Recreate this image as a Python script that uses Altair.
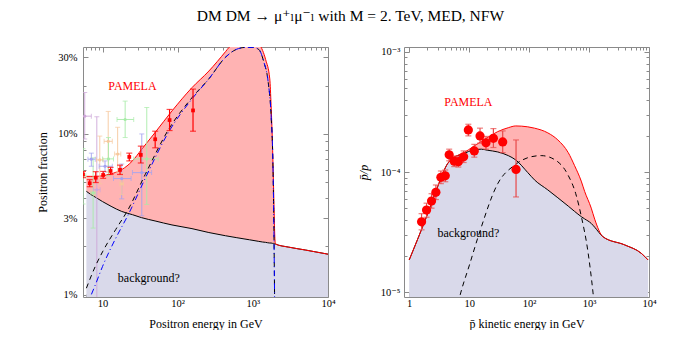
import altair as alt
import pandas as pd

FONT = "Liberation Serif, DejaVu Serif, serif"
FRAME = "#8a8a8a"
PINK = "#FFB3B3"
LAV = "#D9D9EA"
RED = "#FF0000"

# ---------------- Left panel: positron fraction (in %) ----------------
pos_E = [6.1, 7, 8, 10, 13, 18, 25, 33, 50, 84, 155, 260, 434, 482, 600, 900, 1200, 1350,
         1480, 1680, 1750, 1820, 1880, 1930, 1960, 2000, 3000, 5000, 10000]
pos_bg = [4.4, 4.2, 4.05, 3.8, 3.55, 3.3, 3.15, 3.02, 2.88, 2.72, 2.58, 2.44, 2.33, 2.31, 2.27,
          2.2, 2.15, 2.13, 2.12, 2.1, 2.1, 2.09, 2.09, 2.08, 2.08, 2.07, 1.98, 1.9, 1.79]
pos_tot = [5.45, 5.45, 5.45, 5.5, 5.65, 6.0, 6.8, 8.0, 10.2, 13.9, 19.4, 24.6, 32.5, 34.5, 36.5,
           37.5, 36, 33, 29, 22, 15, 9, 5, 3, 2.3, 2.07, 1.98, 1.9, 1.79]

dm_E = [6.1, 8, 10, 15, 22, 37, 76, 155, 260, 434, 600, 800, 1000, 1200, 1400, 1600, 1750,
        1850, 1900, 1930, 1950]
dm_black = [1.1, 1.5, 1.85, 2.55, 3.4, 5.6, 10.7, 16.8, 22, 30, 33.5, 34.5, 34.5, 33.5, 28, 21,
            13, 6.5, 3, 1.5, 0.9]
dm_blue = [0.85, 1.15, 1.5, 2.25, 3.15, 5.3, 10.3, 16.5, 22, 30, 33.5, 34.5, 34.5, 33.5, 28, 21,
           13, 6.5, 3, 1.5, 0.9]

pam_E = [5.5, 6.76, 8.13, 10.2, 12.8, 17.1, 22.7, 32.3, 50.2, 78, 160]
pam_f = [5.6, 4.94, 5.35, 5.56, 5.89, 5.98, 7.2, 7.41, 9.27, 12.2, 14.0]
pam_lo = [5.35, 4.7, 4.99, 5.3, 5.6, 5.6, 6.8, 6.6, 8.2, 10.5, 10.4]
pam_hi = [5.85, 5.2, 5.83, 5.85, 6.2, 6.4, 7.6, 8.4, 10.4, 14.2, 19.0]

oth_exp = ["A", "A", "B", "B", "B", "B", "C", "C", "C", "C", "D", "D", "D", "D", "D"]
oth_E = [5.8, 8.4, 7.1, 10.8, 18, 33.3, 9.2, 11.9, 15.9, 18, 5.5, 7.5, 12, 20, 38.8]
oth_f = [12.9, 4.5, 6.97, 6.3, 5.28, 5.75, 6.9, 9.0, 7.5, 4.9, 5.5, 4.3, 7.0, 12.3, 7.0]
oth_xlo = [5.2, 7.6, 6.4, 9.0, 14, 25, 8.3, 10.5, 14.5, 17, 5.0, 7.0, 10, 15.6, 26]
oth_xhi = [7.1, 9.3, 8.0, 13.5, 24, 45, 10.2, 13.5, 17.5, 19, 6.0, 8.0, 14, 26, 55]
oth_ylo = [9.3, 0.9, 6.3, 5.8, 3.95, 3.1, 4.9, 5.8, 5.8, 4.2, 3.67, 2.6, 5.5, 9.5, 3.65]
oth_yhi = [18.1, 12.8, 7.6, 6.8, 6.5, 10, 9.7, 13.8, 11, 5.7, 8.1, 7.1, 9.5, 16, 14.6]
oth_names = ["A", "B", "C", "D"]
oth_colors = ["#CDA6D8", "#A3A3F0", "#F6C89C", "#A8EBA8"]

left_txt = ["PAMELA", "background?"]
left_txt_E = [25, 41.3]
left_txt_f = [19.9, 1.28]
left_txt_col = [RED, "black"]

# ---------------- Right panel: antiproton / proton ----------------
pb_E = [1.0, 2, 3, 4.4, 5.3, 8, 12, 16, 20, 30, 45, 60, 95, 123, 205, 302, 450, 574, 741, 844,
        1089, 1242, 1708, 3937, 7464, 9660]
pb_bg = [1.85e-5, 4.4e-5, 7.6e-5, 1.18e-4, 1.30e-4, 1.42e-4, 1.53e-4, 1.55e-4, 1.52e-4, 1.47e-4,
         1.37e-4, 1.26e-4, 9.9e-5, 8.6e-5, 7.1e-5, 6.1e-5, 5.2e-5, 4.7e-5, 4.25e-5, 4.07e-5,
         3.73e-5, 3.47e-5, 2.89e-5, 2.47e-5, 2.1e-5, 1.85e-5]
pb_tot = [1.85e-5, 4.4e-5, 7.6e-5, 1.18e-4, 1.30e-4, 1.44e-4, 1.64e-4, 1.80e-4, 1.93e-4, 2.17e-4,
          2.34e-4, 2.42e-4, 2.38e-4, 2.32e-4, 2.12e-4, 1.85e-4, 1.45e-4, 1.13e-4, 8.4e-5, 6.9e-5,
          5.0e-5, 4.05e-5, 2.89e-5, 2.47e-5, 2.1e-5, 1.85e-5]

pbdm_E = [6.5, 7.3, 10, 14.8, 30, 57, 108, 159, 266, 443, 600, 741, 955, 1162, 1250]
pbdm_v = [0.8e-5, 1.0e-5, 1.65e-5, 3.1e-5, 8.0e-5, 1.14e-4, 1.34e-4, 1.37e-4, 1.27e-4, 9.5e-5,
          6.6e-5, 4.3e-5, 2.2e-5, 1.0e-5, 0.7e-5]

pbd_E = [1.61, 1.95, 2.36, 2.79, 3.38, 4.0, 4.65, 5.64, 6.6, 8.1, 9.7, 12.2, 15.2, 19.1, 25.4,
         36.3, 60.6]
pbd_v = [3.85e-5, 4.82e-5, 5.73e-5, 6.77e-5, 9.03e-5, 9.3e-5, 1.39e-4, 1.23e-4, 1.22e-4,
         1.34e-4, 2.24e-4, 1.5e-4, 2.0e-4, 1.75e-4, 1.91e-4, 1.78e-4, 1.05e-4]
pbd_lo = [3.3e-5, 4.2e-5, 5.0e-5, 5.9e-5, 8.0e-5, 8.3e-5, 1.24e-4, 1.11e-4, 1.10e-4, 1.2e-4,
          2.0e-4, 1.33e-4, 1.74e-4, 1.55e-4, 1.6e-4, 1.45e-4, 6.2e-5]
pbd_hi = [4.5e-5, 5.5e-5, 6.6e-5, 7.8e-5, 1.02e-4, 1.04e-4, 1.55e-4, 1.36e-4, 1.35e-4, 1.5e-4,
          2.5e-4, 1.7e-4, 2.32e-4, 1.98e-4, 2.3e-4, 2.2e-4, 1.85e-4]

right_txt = ["PAMELA", "background?"]
right_txt_E = [9.73, 9.73]
right_txt_v = [3.86e-4, 3.08e-5]
right_txt_col = [RED, "black"]

# ---------------- axis ticks ----------------
L_XMAJ = [10, 100, 1000, 10000]
L_XMIN = [6, 7, 8, 9] + [m * 10 ** k for k in (1, 2, 3) for m in range(2, 10)]
L_YMAJ = [1, 3, 10, 30]
L_YMIN = [2, 4, 5, 6, 7, 8, 9, 20]
R_XMAJ = [1, 10, 100, 1000, 10000]
R_XMIN = [m * 10 ** k for k in (0, 1, 2, 3) for m in range(2, 10)]
R_YMAJ = [1e-5, 1e-4, 1e-3]
R_YMIN = [m * 1e-5 for m in range(2, 10)] + [m * 1e-4 for m in range(2, 10)]

L_XLAB = "datum.value == 10 ? '10' : datum.value == 100 ? '10²' : datum.value == 1000 ? '10³' : '10⁴'"
R_XLAB = ("datum.value == 1 ? '1' : datum.value == 10 ? '10' : datum.value == 100 ? '10²' : "
          "datum.value == 1000 ? '10³' : '10⁴'")
L_YLAB = "datum.value + '%'"
R_YLAB = ("round(log(datum.value)/LN10) == -5 ? '10⁻⁵' : "
          "round(log(datum.value)/LN10) == -4 ? '10⁻⁴' : '10⁻³'")

XL = alt.Scale(type="log", domain=[5.5, 10000], nice=False)
YL = alt.Scale(type="log", domain=[0.97, 34.7], nice=False)
XR = alt.Scale(type="log", domain=[0.82, 10000], nice=False)
YR = alt.Scale(type="log", domain=[0.91e-5, 1.1e-3], nice=False)


def axis_layers(df, xf, yf, xs, ys, xmaj, xmin_, ymaj, ymin_, xlab, ylab, xtitle, ytitle,
                ylabpad, ytitlepad, ystyle):
    com = dict(domain=False, grid=False, tickColor=FRAME, tickWidth=1, labelFont=FONT,
               labelFontSize=10.5, labelColor="black", titleFont=FONT, titleFontSize=12,
               titleFontWeight="normal", titleColor="black", labelFlush=False,
               labelOverlap=False)
    nolab = dict(com, labels=False)

    def lay(xax, yax):
        return alt.Chart(df).mark_point(opacity=0, clip=True).encode(
            x=alt.X(xf, type="quantitative", scale=xs, axis=xax),
            y=alt.Y(yf, type="quantitative", scale=ys, axis=yax))

    a1 = lay(alt.Axis(orient="bottom", values=xmaj, labelExpr=xlab, tickSize=5, offset=-5,
                      labelPadding=1, title=xtitle, titlePadding=10, **com),
             alt.Axis(orient="left", values=ymaj, labelExpr=ylab, tickSize=5, offset=-5,
                      labelPadding=ylabpad, title=ytitle, titlePadding=ytitlepad,
                      titleFontStyle=ystyle, **com))
    a2 = lay(alt.Axis(orient="bottom", values=xmin_, tickSize=3, offset=-3, title=None, **nolab),
             alt.Axis(orient="left", values=ymin_, tickSize=3, offset=-3, title=None, **nolab))
    a3 = lay(alt.Axis(orient="top", values=xmaj, tickSize=5, offset=-5, title=None, **nolab),
             alt.Axis(orient="right", values=ymaj, tickSize=5, offset=-5, title=None, **nolab))
    a4 = lay(alt.Axis(orient="top", values=xmin_, tickSize=3, offset=-3, title=None, **nolab),
             alt.Axis(orient="right", values=ymin_, tickSize=3, offset=-3, title=None, **nolab))
    return [a1, a2, a3, a4]


def X(f, s):
    return alt.X(f, type="quantitative", scale=s, axis=None)


def Y(f, s):
    return alt.Y(f, type="quantitative", scale=s, axis=None)


# ---------------- build left panel ----------------
dfL = pd.DataFrame({"E": pos_E, "bg": pos_bg, "tot": pos_tot})
dfDM = pd.DataFrame({"E": dm_E, "black": dm_black, "blue": dm_blue})
dfP = pd.DataFrame({"E": pam_E, "f": pam_f, "lo": pam_lo, "hi": pam_hi})
dfO = pd.DataFrame({"exp": oth_exp, "E": oth_E, "f": oth_f, "xlo": oth_xlo, "xhi": oth_xhi,
                    "ylo": oth_ylo, "yhi": oth_yhi})
dfLT = pd.DataFrame({"t": left_txt, "E": left_txt_E, "f": left_txt_f, "c": left_txt_col})
ocol = alt.Color("exp:N", scale=alt.Scale(domain=oth_names, range=oth_colors), legend=None)

l_bg_area = alt.Chart(dfL).mark_area(color=LAV, clip=True, interpolate="monotone").encode(
    x=X("E", XL), y=Y("bg", YL), y2=alt.datum(0.97))
l_dm_area = alt.Chart(dfL).mark_area(color=PINK, clip=True, interpolate="monotone").encode(
    x=X("E", XL), y=Y("tot", YL), y2="bg")
l_bg_line = alt.Chart(dfL).mark_line(color="black", strokeWidth=1, clip=True,
                                     interpolate="monotone").encode(x=X("E", XL), y=Y("bg", YL))
l_tot_line = alt.Chart(dfL).mark_line(color=RED, strokeWidth=1, clip=True,
                                      interpolate="monotone").encode(x=X("E", XL), y=Y("tot", YL))
l_o_v = alt.Chart(dfO).mark_rule(strokeWidth=1, opacity=0.9, clip=True).encode(
    x=X("E", XL), y=Y("ylo", YL), y2="yhi", color=ocol)
l_o_h = alt.Chart(dfO).mark_rule(strokeWidth=1, opacity=0.9, clip=True).encode(
    x=X("xlo", XL), x2="xhi", y=Y("f", YL), color=ocol)
l_o_c1 = alt.Chart(dfO).mark_tick(orient="horizontal", size=5, thickness=1, clip=True).encode(
    x=X("E", XL), y=Y("ylo", YL), color=ocol)
l_o_c2 = alt.Chart(dfO).mark_tick(orient="horizontal", size=5, thickness=1, clip=True).encode(
    x=X("E", XL), y=Y("yhi", YL), color=ocol)
l_o_c3 = alt.Chart(dfO).mark_tick(orient="vertical", size=5, thickness=1, clip=True).encode(
    x=X("xlo", XL), y=Y("f", YL), color=ocol)
l_o_c4 = alt.Chart(dfO).mark_tick(orient="vertical", size=5, thickness=1, clip=True).encode(
    x=X("xhi", XL), y=Y("f", YL), color=ocol)
l_o_pt = alt.Chart(dfO).mark_circle(size=10, opacity=1, clip=True).encode(
    x=X("E", XL), y=Y("f", YL), color=ocol)
l_dm_black = alt.Chart(dfDM).mark_line(color="black", strokeWidth=1, strokeDash=[5, 4], clip=True,
                                       interpolate="monotone").encode(x=X("E", XL), y=Y("black", YL))
l_dm_blue = alt.Chart(dfDM).mark_line(color="#0000FF", strokeWidth=1, strokeDash=[6, 3, 1, 3],
                                      clip=True, interpolate="monotone").encode(
    x=X("E", XL), y=Y("blue", YL))
l_p_v = alt.Chart(dfP).mark_rule(color=RED, strokeWidth=1.2, clip=True).encode(
    x=X("E", XL), y=Y("lo", YL), y2="hi")
l_p_c1 = alt.Chart(dfP).mark_tick(orient="horizontal", size=6, thickness=1.2, color=RED,
                                  clip=True).encode(x=X("E", XL), y=Y("lo", YL))
l_p_c2 = alt.Chart(dfP).mark_tick(orient="horizontal", size=6, thickness=1.2, color=RED,
                                  clip=True).encode(x=X("E", XL), y=Y("hi", YL))
l_p_pt = alt.Chart(dfP).mark_square(size=14, color=RED, opacity=1, clip=True).encode(
    x=X("E", XL), y=Y("f", YL))
l_txt = alt.Chart(dfLT).mark_text(font=FONT, fontSize=12, align="center",
                                  baseline="middle").encode(
    x=X("E", XL), y=Y("f", YL), text="t:N",
    color=alt.Color("c:N", scale=None, legend=None))

left = alt.layer(
    l_bg_area, l_dm_area, l_bg_line, l_tot_line, l_o_v, l_o_h, l_o_c1, l_o_c2, l_o_c3, l_o_c4,
    l_o_pt, l_dm_black, l_dm_blue, l_p_v, l_p_c1, l_p_c2, l_p_pt, l_txt,
    *axis_layers(dfL, "E", "bg", XL, YL, L_XMAJ, L_XMIN, L_YMAJ, L_YMIN, L_XLAB, L_YLAB,
                 "Positron energy in GeV", "Positron fraction", 6, 8, "normal")
).resolve_axis(x="independent", y="independent").properties(width=245, height=250)

# ---------------- build right panel ----------------
dfR = pd.DataFrame({"E": pb_E, "bg": pb_bg, "tot": pb_tot})
dfRD = pd.DataFrame({"E": pbdm_E, "v": pbdm_v})
dfRP = pd.DataFrame({"E": pbd_E, "v": pbd_v, "lo": pbd_lo, "hi": pbd_hi})
dfRT = pd.DataFrame({"t": right_txt, "E": right_txt_E, "v": right_txt_v, "c": right_txt_col})

r_bg_area = alt.Chart(dfR).mark_area(color=LAV, clip=True, interpolate="monotone").encode(
    x=X("E", XR), y=Y("bg", YR), y2=alt.datum(0.91e-5))
r_dm_area = alt.Chart(dfR).mark_area(color=PINK, clip=True, interpolate="monotone").encode(
    x=X("E", XR), y=Y("tot", YR), y2="bg")
r_bg_line = alt.Chart(dfR).mark_line(color="black", strokeWidth=1, clip=True,
                                     interpolate="monotone").encode(x=X("E", XR), y=Y("bg", YR))
r_tot_line = alt.Chart(dfR).mark_line(color=RED, strokeWidth=1, clip=True,
                                      interpolate="monotone").encode(x=X("E", XR), y=Y("tot", YR))
r_dm = alt.Chart(dfRD).mark_line(color="black", strokeWidth=1, strokeDash=[5, 4], clip=True,
                                 interpolate="monotone").encode(x=X("E", XR), y=Y("v", YR))
r_p_v = alt.Chart(dfRP).mark_rule(color="#E84848", strokeWidth=1.2, clip=True).encode(
    x=X("E", XR), y=Y("lo", YR), y2="hi")
r_p_c1 = alt.Chart(dfRP).mark_tick(orient="horizontal", size=6, thickness=1.2, color="#E84848",
                                   clip=True).encode(x=X("E", XR), y=Y("lo", YR))
r_p_c2 = alt.Chart(dfRP).mark_tick(orient="horizontal", size=6, thickness=1.2, color="#E84848",
                                   clip=True).encode(x=X("E", XR), y=Y("hi", YR))
r_p_pt = alt.Chart(dfRP).mark_circle(size=85, color=RED, opacity=1, clip=True).encode(
    x=X("E", XR), y=Y("v", YR))
r_txt = alt.Chart(dfRT).mark_text(font=FONT, fontSize=12, align="center",
                                  baseline="middle").encode(
    x=X("E", XR), y=Y("v", YR), text="t:N",
    color=alt.Color("c:N", scale=None, legend=None))

right = alt.layer(
    r_bg_area, r_dm_area, r_bg_line, r_tot_line, r_dm, r_p_v, r_p_c1, r_p_c2, r_p_pt, r_txt,
    *axis_layers(dfR, "E", "bg", XR, YR, R_XMAJ, R_XMIN, R_YMAJ, R_YMIN, R_XLAB, R_YLAB,
                 "p̄ kinetic energy in GeV", "p̄/p", 4, 10, "italic")
).resolve_axis(x="independent", y="independent").properties(width=245, height=250)

chart = alt.hconcat(left, right, spacing=20).properties(
    title=alt.TitleParams("DM DM → μ⁺ₗμ⁻ₗ with M = 2. TeV, MED, NFW", font=FONT, fontSize=15.5,
                          fontWeight="normal", color="black", anchor="middle", offset=22, dx=4),
    padding={"left": 28, "top": 0, "right": 0, "bottom": 0},
).configure_view(stroke=FRAME, strokeWidth=1)

chart.save("out.html", embed_options={"renderer": "svg", "actions": False})
